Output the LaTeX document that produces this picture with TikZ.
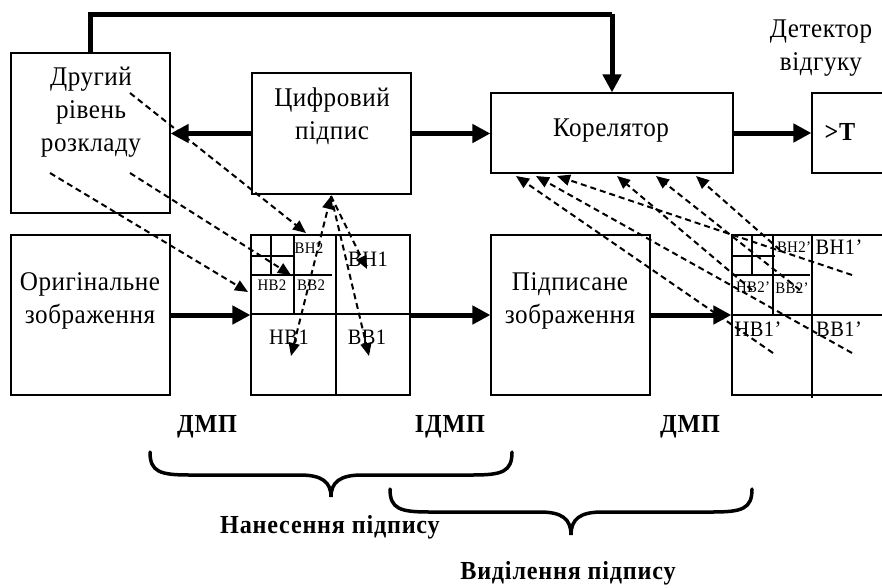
\documentclass[tikz,border=0pt]{standalone}
\usepackage{fontspec}
\setmainfont{Liberation Serif}
\newfontfamily\lbl[LetterSpace=2,FakeStretch=0.93]{Liberation Serif}
\newfontfamily\lblb[LetterSpace=3,FakeStretch=0.93]{Liberation Serif}
\usetikzlibrary{arrows.meta}
\begin{document}
\begin{tikzpicture}[x=1pt,y=-1pt,
  box/.style={draw,line width=1.2pt,inner sep=0pt,fill=none},
  txt/.style={font=\lbl\fontsize{27}{33}\selectfont,align=center,inner sep=0pt},
  sm/.style={font=\lbl\fontsize{16}{16}\selectfont,inner sep=0pt},
  md/.style={font=\lbl\fontsize{22}{22}\selectfont,inner sep=0pt},
  bl/.style={font=\lblb\bfseries\fontsize{26}{26}\selectfont,inner sep=0pt},
  bigarrow/.style={line width=5pt,-{Triangle[length=18pt,width=18pt]}},
  dasharrow/.style={line width=2pt,dash pattern=on 6pt off 4pt,-{Triangle[length=13pt,width=11pt]}},
  gl/.style={line width=1.2pt},
  brace/.style={line width=3.5pt,line cap=round}]
\useasboundingbox (0,0) rectangle (882,587);

% boxes
\node[box,minimum width=159pt,minimum height=160pt] (dr) at (90.5,133) {};
\node[box,minimum width=159pt,minimum height=121pt] (cp) at (331.5,133.5) {};
\node[box,minimum width=242pt,minimum height=80pt] (kor) at (612,133) {};
\node[box,minimum width=90pt,minimum height=80pt] (det) at (857,133) {};
\node[box,minimum width=159pt,minimum height=160pt] (orig) at (90.5,315) {};
\node[box,minimum width=159pt,minimum height=160pt] (g1) at (330.5,315) {};
\node[box,minimum width=159pt,minimum height=160pt] (sig) at (570.5,315) {};
\node[box,minimum width=170pt,minimum height=160pt] (g2) at (817,315) {};

% texts
\node[txt] (drt) at (91,112) {Другий\\рівень\\розкладу};
\node[txt] (cpt) at (332,116) {Цифровий\\підпис};
\node[txt] (kort) at (611,131) {Корелятор};
\node[font=\lblb\bfseries\fontsize{26}{26}\selectfont,inner sep=0pt] (gt) at (840,132) {>T};
\node[txt] (dett) at (821,48) {Детектор\\відгуку};
\node[txt] (origt) at (90,301) {Оригінальне\\зображення};
\node[txt] (sigt) at (570,301) {Підписане\\зображення};

% grid 1
\draw[gl] (336,235) -- (336,395) (251,314) -- (410,314)
  (294,235) -- (294,314) (251,275) -- (332,275)
  (271,235) -- (271,275) (251,256) -- (294,256);
\node[sm] (a1) at (309,248) {ВН2};
\node[sm] (a2) at (272,285) {НВ2};
\node[sm] (a3) at (311,285) {ВВ2};
\node[md] (a4) at (368,259) {ВН1};
\node[md] (a5) at (289,337) {НВ1};
\node[md] (a6) at (367,337) {ВВ1};

% grid 2
\draw[gl] (812,235) -- (812,398) (732,315) -- (902,315)
  (773,235) -- (773,315) (732,275) -- (810,275)
  (752,235) -- (752,275) (732,256) -- (775,256);
\node[sm] (b1) at (794,247) {ВН2’};
\node[md] (b2) at (839,247) {ВН1’};
\node[sm] (b3) at (753,287) {НВ2’};
\node[sm] (b4) at (792,288) {ВВ2’};
\node[md] (b5) at (758,329) {НВ1’};
\node[md] (b6) at (839,329) {ВВ1’};

% thick arrows
\draw[bigarrow] (cp.west) -- (dr.east |- cp.west);
\draw[bigarrow] (cp.east) -- (kor.west |- cp.east);
\draw[bigarrow] (kor.east) -- (det.west);
\draw[bigarrow] (orig.east) -- (g1.west);
\draw[bigarrow] (g1.east) -- (sig.west);
\draw[bigarrow] (sig.east) -- (g2.west);
\draw[line width=5pt,line join=miter] (90,53) -- (90,14) -- (612,14);
\draw[bigarrow] (612,14) -- (kor.north);

% dashed arrows (left)
\coordinate (l1s) at (50,173);  \coordinate (l1e) at (248,292);
\coordinate (l2s) at (130,173); \coordinate (l2e) at (291,275);
\coordinate (l3s) at (130,93);  \coordinate (l3e) at (306,233);
\draw[dasharrow] (l1s) -- (l1e);
\draw[dasharrow] (l2s) -- (l2e);
\draw[dasharrow] (l3s) -- (l3e);
\coordinate (c0) at (331,196);
\coordinate (c1) at (291,356); \coordinate (c2) at (369,356); \coordinate (c3) at (367,269);
\draw[dasharrow,{Triangle[length=13pt,width=11pt]}-{Triangle[length=13pt,width=11pt]}] (c1) -- (c0);
\draw[dasharrow] (c0) -- (c2);
\draw[dasharrow] (c0) -- (c3);

% dashed arrows (right)
\coordinate (k1) at (516,176); \coordinate (k2) at (536,176); \coordinate (k3) at (557,176);
\coordinate (k4) at (617,176); \coordinate (k5) at (656,176); \coordinate (k6) at (696,176);
\coordinate (r1) at (773,353); \coordinate (r2) at (852,353); \coordinate (r3) at (852,275);
\coordinate (r4) at (752,290); \coordinate (r5) at (800,290); \coordinate (r6) at (780,250);
\draw[dasharrow] (r1) -- (k1);
\draw[dasharrow] (r2) -- (k2);
\draw[dasharrow] (r3) -- (k3);
\draw[dasharrow] (r4) -- (k4);
\draw[dasharrow] (r5) -- (k5);
\draw[dasharrow] (r6) -- (k6);

% labels below
\node[bl] (d1) at (207,427) {ДМП};
\node[bl] (d2) at (450,427) {ІДМП};
\node[bl] (d3) at (690,427) {ДМП};
\draw[brace] (150,452) .. controls (150,472) and (160,475) .. (190,475) -- (300,475)
  .. controls (322,475) and (331,482) .. (331,497)
  .. controls (331,482) and (340,475) .. (362,475) -- (472,475)
  .. controls (502,475) and (512,472) .. (512,452);
\draw[brace] (390,489) .. controls (390,509) and (400,512) .. (430,512) -- (540,512)
  .. controls (562,512) and (571,519) .. (571,535)
  .. controls (571,519) and (580,512) .. (602,512) -- (712,512)
  .. controls (742,512) and (752,509) .. (752,489);
\node[bl] (n1) at (330,527) {Нанесення підпису};
\node[bl] (n2) at (568,573) {Виділення підпису};
\end{tikzpicture}
\end{document}
